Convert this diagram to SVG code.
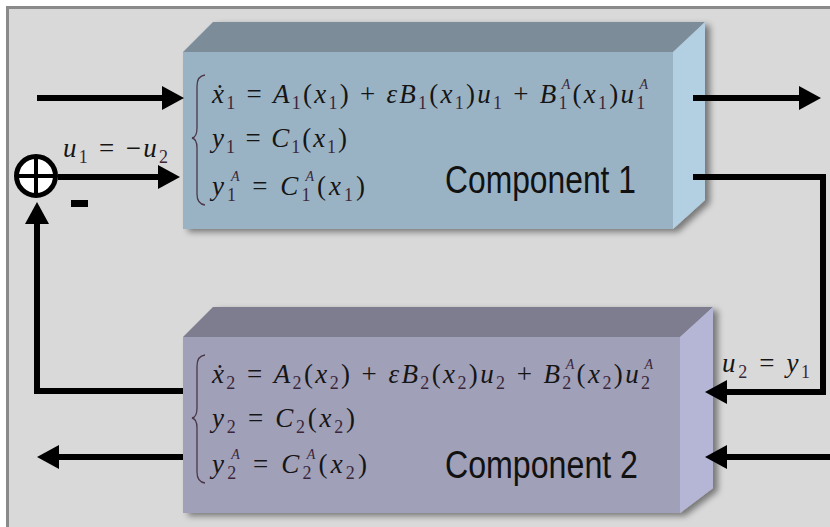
<svg xmlns="http://www.w3.org/2000/svg" width="830" height="527" viewBox="0 0 830 527">
<defs>
<filter id="sh" x="-5%" y="-5%" width="115%" height="120%">
<feDropShadow dx="5" dy="3" stdDeviation="3" flood-color="#000" flood-opacity="0.45"/>
</filter>
<marker id="ah" markerUnits="userSpaceOnUse" markerWidth="22" markerHeight="24" viewBox="0 0 22 24" refX="0" refY="12" orient="auto">
<path d="M0,0 L22,12 L0,24 z" fill="#000"/>
</marker>
</defs>
<style>
.eq{font-family:"Liberation Serif","Times New Roman",serif;font-size:27px;fill:#151515}
.i{font-style:italic}
.sb{font-size:18px;fill:#3a2638}
.sp{font-size:14px;font-style:italic;fill:#3a2638}
.lbl{font-family:"Liberation Sans",Arial,sans-serif;font-size:38px;fill:#111}
.c{fill:none;stroke:#000;stroke-width:6}
.br{fill:none;stroke:#4a3848;stroke-width:1.3}
</style>
<rect x="0" y="0" width="830" height="527" fill="#fff"/>
<rect x="7.5" y="7.5" width="830" height="530" fill="#d9d9d9" stroke="#8a8a8a" stroke-width="3"/>

<g id="component1">
<g filter="url(#sh)">
<polygon points="183,52 213,22 705,22 673,52" fill="#7b8d99"/>
<polygon points="673,52 705,22 705,200 673,229" fill="#b3cfe2"/>
<rect x="183" y="52" width="490" height="177" fill="#9ab3c4"/>
</g>
<path class="br" d="M205,75 Q197,76 197,86 L197,128 Q197,137 192,138 Q197,139 197,148 L197,194 Q197,204 205,205"/>
<text class="eq" x="212" y="103" textLength="436" lengthAdjust="spacing"><tspan class="i">ẋ</tspan><tspan class="sb" dy="6">1</tspan><tspan dy="-6"> = </tspan><tspan class="i">A</tspan><tspan class="sb" dy="6">1</tspan><tspan dy="-6">(</tspan><tspan class="i">x</tspan><tspan class="sb" dy="6">1</tspan><tspan dy="-6">) + </tspan><tspan class="i">εB</tspan><tspan class="sb" dy="6">1</tspan><tspan dy="-6">(</tspan><tspan class="i">x</tspan><tspan class="sb" dy="6">1</tspan><tspan dy="-6">)</tspan><tspan class="i">u</tspan><tspan class="sb" dy="6">1</tspan><tspan dy="-6"> + </tspan><tspan class="i">B</tspan><tspan class="sb" dy="6">1</tspan><tspan class="sp" dx="-8" dy="-20">A</tspan><tspan dy="14">(</tspan><tspan class="i">x</tspan><tspan class="sb" dy="6">1</tspan><tspan dy="-6">)</tspan><tspan class="i">u</tspan><tspan class="sb" dy="6">1</tspan><tspan class="sp" dx="-8" dy="-20">A</tspan></text>
<text class="eq" x="212" y="147" textLength="135" lengthAdjust="spacing"><tspan class="i">y</tspan><tspan class="sb" dy="6">1</tspan><tspan dy="-6"> = </tspan><tspan class="i">C</tspan><tspan class="sb" dy="6">1</tspan><tspan dy="-6">(</tspan><tspan class="i">x</tspan><tspan class="sb" dy="6">1</tspan><tspan dy="-6">)</tspan></text>
<text class="eq" x="212" y="195" textLength="153" lengthAdjust="spacing"><tspan class="i">y</tspan><tspan class="sb" dy="6">1</tspan><tspan class="sp" dx="-8" dy="-20">A</tspan><tspan dy="14"> = </tspan><tspan class="i">C</tspan><tspan class="sb" dy="6">1</tspan><tspan class="sp" dx="-8" dy="-20">A</tspan><tspan dy="14">(</tspan><tspan class="i">x</tspan><tspan class="sb" dy="6">1</tspan><tspan dy="-6">)</tspan></text>
<text class="lbl" x="445" y="193" textLength="191" lengthAdjust="spacingAndGlyphs">Component 1</text>
</g>

<g id="component2">
<g filter="url(#sh)">
<polygon points="183,337 213,307 713,307 680,337" fill="#7e7d8f"/>
<polygon points="680,337 713,307 713,488 680,513" fill="#b5b5d5"/>
<rect x="183" y="337" width="497" height="176" fill="#a0a0b8"/>
</g>
<path class="br" d="M205,355 Q197,356 197,366 L197,408 Q197,417 192,418 Q197,419 197,428 L197,472 Q197,482 205,483"/>
<text class="eq" x="212" y="383" textLength="441" lengthAdjust="spacing"><tspan class="i">ẋ</tspan><tspan class="sb" dy="6">2</tspan><tspan dy="-6"> = </tspan><tspan class="i">A</tspan><tspan class="sb" dy="6">2</tspan><tspan dy="-6">(</tspan><tspan class="i">x</tspan><tspan class="sb" dy="6">2</tspan><tspan dy="-6">) + </tspan><tspan class="i">εB</tspan><tspan class="sb" dy="6">2</tspan><tspan dy="-6">(</tspan><tspan class="i">x</tspan><tspan class="sb" dy="6">2</tspan><tspan dy="-6">)</tspan><tspan class="i">u</tspan><tspan class="sb" dy="6">2</tspan><tspan dy="-6"> + </tspan><tspan class="i">B</tspan><tspan class="sb" dy="6">2</tspan><tspan class="sp" dx="-8" dy="-20">A</tspan><tspan dy="14">(</tspan><tspan class="i">x</tspan><tspan class="sb" dy="6">2</tspan><tspan dy="-6">)</tspan><tspan class="i">u</tspan><tspan class="sb" dy="6">2</tspan><tspan class="sp" dx="-8" dy="-20">A</tspan></text>
<text class="eq" x="212" y="427" textLength="143" lengthAdjust="spacing"><tspan class="i">y</tspan><tspan class="sb" dy="6">2</tspan><tspan dy="-6"> = </tspan><tspan class="i">C</tspan><tspan class="sb" dy="6">2</tspan><tspan dy="-6">(</tspan><tspan class="i">x</tspan><tspan class="sb" dy="6">2</tspan><tspan dy="-6">)</tspan></text>
<text class="eq" x="212" y="473" textLength="155" lengthAdjust="spacing"><tspan class="i">y</tspan><tspan class="sb" dy="6">2</tspan><tspan class="sp" dx="-8" dy="-20">A</tspan><tspan dy="14"> = </tspan><tspan class="i">C</tspan><tspan class="sb" dy="6">2</tspan><tspan class="sp" dx="-8" dy="-20">A</tspan><tspan dy="14">(</tspan><tspan class="i">x</tspan><tspan class="sb" dy="6">2</tspan><tspan dy="-6">)</tspan></text>
<text class="lbl" x="445" y="478" textLength="193" lengthAdjust="spacingAndGlyphs">Component 2</text>
</g>

<g id="sum">
<circle cx="36" cy="176" r="19.5" fill="#fff" stroke="#000" stroke-width="5"/>
<path d="M36,157 V195 M17,176 H55" stroke="#000" stroke-width="4"/>
<rect x="71" y="200" width="17" height="7" fill="#000"/>
</g>

<g id="connectors">
<path class="c" d="M37,98 H162" marker-end="url(#ah)"/>
<path class="c" d="M693,98 H799" marker-end="url(#ah)"/>
<path class="c" d="M58,177 H158" marker-end="url(#ah)"/>
<path class="c" d="M183,391 H37 V224" marker-end="url(#ah)"/>
<path class="c" d="M183,457 H59" marker-end="url(#ah)"/>
<path class="c" d="M693,177 H823 V392 H727" marker-end="url(#ah)"/>
<path class="c" d="M830,457 H727" marker-end="url(#ah)"/>
</g>

<g id="labels">
<text class="eq" x="63" y="157" textLength="105" lengthAdjust="spacing"><tspan class="i">u</tspan><tspan class="sb" dy="6">1</tspan><tspan dy="-6"> = −</tspan><tspan class="i">u</tspan><tspan class="sb" dy="6">2</tspan></text>
<text class="eq" x="722" y="372" textLength="88" lengthAdjust="spacing"><tspan class="i">u</tspan><tspan class="sb" dy="6">2</tspan><tspan dy="-6"> = </tspan><tspan class="i">y</tspan><tspan class="sb" dy="6">1</tspan></text>
</g>
</svg>
